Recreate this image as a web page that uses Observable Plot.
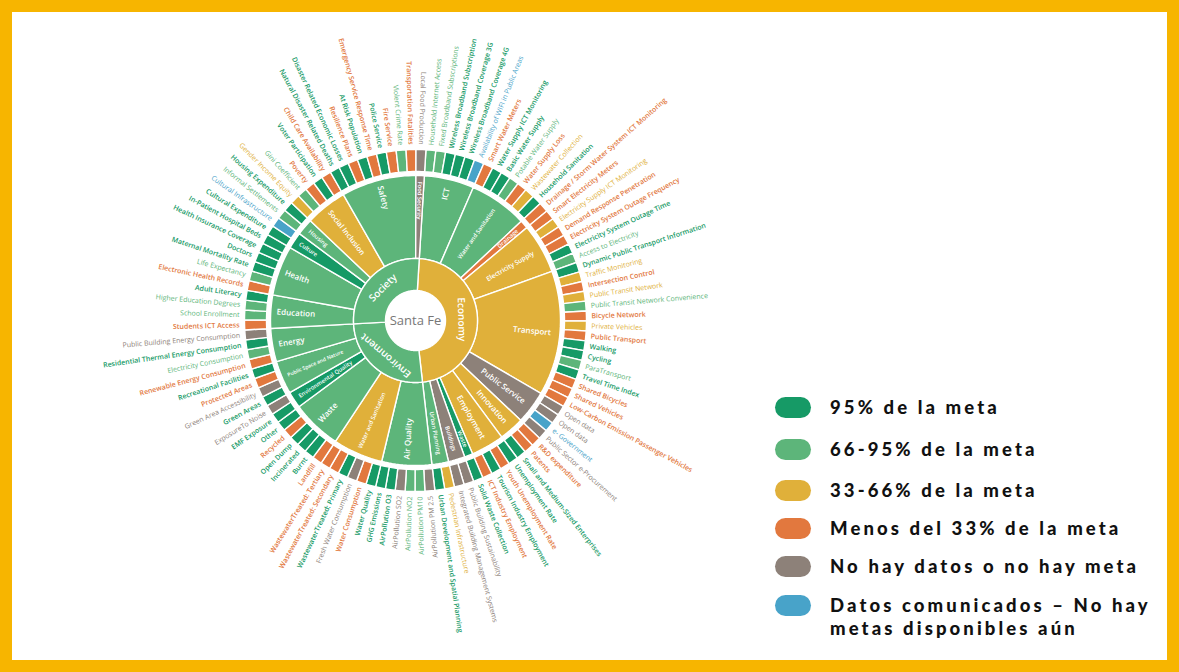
<!DOCTYPE html>
<html><head><meta charset="utf-8">
<script src="https://cdn.jsdelivr.net/npm/d3@7"></script>
<script src="https://cdn.jsdelivr.net/npm/@observablehq/plot@0.6"></script>
<style>
html,body{margin:0;padding:0;}
body{width:1179px;height:672px;background:#f7b500;position:relative;overflow:hidden;}
#panel{position:absolute;left:12px;top:12px;width:1155px;height:648px;background:#fff;}
#chart{position:absolute;left:0;top:0;}
.sw{position:absolute;left:775px;width:36px;height:21px;border-radius:10.5px;}
.lab{position:absolute;left:830px;font-family:Lato,"Open Sans",sans-serif;font-weight:900;font-size:18.5px;letter-spacing:3.1px;line-height:23px;color:#111;white-space:nowrap;}
</style></head>
<body>
<div id="panel"><div id="chart"></div></div>
<div id="legend"></div>
<script>
// ---- data ----
const statusLabels = ["95% de la meta","66-95% de la meta","33-66% de la meta","Menos del 33% de la meta","No hay datos o no hay meta","Datos comunicados – No hay metas disponibles aún"];
const statusCodes = ["D","L","Y","O","G","B"];
const statusColors = ["#169a66","#5db57a","#e0b03a","#e2783e","#8d8179","#48a3c9"];

const dimensionNames = ["Economy","Environment","Society"];
const dimensionStatus = ["Y","L","L"];

const categoryNames = ["ICT","Water and Sanitation","Drainage","Electricity Supply","Transport","Public Service","Innovation","Employment","Waste","Buildings","Urban Planning",
  "Air Quality","Water and Sanitation","Waste","Environmental Quality","Public Space and Nature","Energy",
  "Education","Health","Culture","Housing","Social Inclusion","Safety","Food Security"];
const categoryDimension = [0,0,0,0,0,0,0,0,0,0,0, 1,1,1,1,1,1, 2,2,2,2,2,2,2];
const categoryStatus = ["L","L","O","Y","Y","G","Y","Y","D","G","L", "L","Y","L","D","L","L", "L","L","D","L","Y","L","G"];
const categorySizes = [6,7,1,6,15,4,3,4,1,2,2, 6,6,6,2,4,4, 4,6,2,2,5,9,1];

const indicatorNames = [
"Household Internet Access","Fixed Broadband Subscriptions","Wireless Broadband Subscription","Wireless Broadband Coverage 3G","Wireless Broadband Coverage 4G","Availability of WIFI in Public Areas",
"Smart Water Meters","Water Supply ICT Monitoring","Basic Water Supply","Potable Water Supply","Water Supply Loss","Wastewater Collection","Household Sanitation",
"Drainage / Storm Water System ICT Monitoring",
"Smart Electricity Meters","Electricity Supply ICT Monitoring","Demand Response Penetration","Electricity System Outage Frequency","Electricity System Outage Time","Access to Electricity",
"Dynamic Public Transport Information","Traffic Monitoring","Intersection Control","Public Transit Network","Public Transit Network Convenience","Bicycle Network","Private Vehicles","Public Transport","Walking","Cycling","ParaTransport","Travel Time Index","Shared Bicycles","Shared Vehicles","Low-Carbon Emission Passenger Vehicles",
"Open data","Open data","e- Government","Public Sector e-Procurement",
"R&D expenditure","Patents","Small and Medium-Sized Enterprises",
"Unemployment Rate","Youth Unemployment Rate","Tourism Industry Employment","ICT Industry Employment",
"Solid Waste Collection",
"Public Building Sustainability","Integrated Building Management Systems",
"Pedestrian Infrastructure","Urban Development and Spatial Planning",
"AirPollution PM 2.5","AirPollution PM10","AirPollution NO2","AirPollution SO2","AirPollution O3","GHG Emissions",
"Water Quality","Water Consumption","Fresh Water Consumption","WastewaterTreated: Primary","WastewaterTreated: Secondary","WastewaterTreated: Tertiary",
"Landfill","Burnt","Incinerated","Open Dump","Recycled","Other",
"EMF Exposure","ExposureTo Noise",
"Green Areas","Green Area Accessibility","Protected Areas","Recreational Facilities",
"Renewable Energy Consumption","Electricity Consumption","Residential Thermal Energy Consumption","Public Building Energy Consumption",
"Students ICT Access","School Enrollment","Higher Education Degrees","Adult Literacy",
"Electronic Health Records","Life Expectancy","Maternal Mortality Rate","Doctors","Health Insurance Coverage","In-Patient Hospital Beds",
"Cultural Expenditure","Cultural Infrastructure",
"Informal Settlements","Housing Expenditure",
"Gender Income Equity","Gini Coefficient","Poverty","Voter Participation","Child Care Availability",
"Natural Disaster Related Deaths","Disaster Related Economic Losses","Resilience Plans","At Risk Population","Emergency Service Response Time","Police Service","Fire Service","Violent Crime Rate","Transportation Fatalities",
"Local Food Production"];
const indicatorStatus = [
"L","L","D","D","D","B",
"O","D","D","L","O","Y","D",
"O",
"O","Y","O","O","D","L",
"D","Y","O","Y","L","O","Y","O","D","D","L","D","O","O","O",
"G","G","B","G",
"O","O","D",
"D","O","D","O",
"D",
"G","G",
"Y","D",
"G","L","L","G","D","D",
"D","O","G","D","O","O",
"O","D","D","D","O","D",
"D","G",
"D","G","O","D",
"O","L","D","G",
"O","L","L","D",
"O","L","D","D","D","D",
"D","B",
"L","D",
"Y","L","O","D","O",
"D","D","O","D","O","D","O","L","O",
"G"];

// ---- layout helpers ----
const lab = c => statusLabels[statusCodes.indexOf(c)];
const N = indicatorNames.length, step = 360 / N, offset = 3.5;
const RAD = Math.PI / 180;
const pos = (r, a) => ({x: r * Math.sin(a * RAD), y: r * Math.cos(a * RAD)});
function arc(id, a0, a1, r0, r1, status) {
  const n = Math.max(2, Math.ceil((a1 - a0) / 1.5)), pts = [];
  for (let k = 0; k <= n; k++) pts.push({id, status, ...pos(r1, a0 + (a1 - a0) * k / n)});
  for (let k = n; k >= 0; k--) pts.push({id, status, ...pos(r0, a0 + (a1 - a0) * k / n)});
  return pts;
}
const R1 = [30, 62], R2 = [62, 145], R3 = [149, 171];

const indCat = [];
categorySizes.forEach((s, c) => { for (let k = 0; k < s; k++) indCat.push(c); });

const polys = [], ring3Labels = [], ring2Labels = [], ring1Labels = [];
indicatorNames.forEach((name, i) => {
  const a0 = offset + i * step, a1 = a0 + step, am = (a0 + a1) / 2;
  const st = lab(indicatorStatus[i]);
  polys.push(...arc("i" + i, a0, a1, R3[0], R3[1], st));
  const flip = categoryDimension[indCat[i]] !== 0;
  const bold = indicatorStatus[i] === "D" || indicatorStatus[i] === "O";
  ring3Labels.push({name, status: st, flip, bold, ...pos(176, am), rotate: flip ? am + 90 : am - 90});
});
let start = 0;
categoryNames.forEach((name, c) => {
  const a0 = offset + start * step, a1 = a0 + categorySizes[c] * step, am = (a0 + a1) / 2;
  polys.push(...arc("c" + c, a0, a1, R2[0], R2[1], lab(categoryStatus[c])));
  const flip = categoryDimension[c] !== 0;
  const size = categorySizes[c] <= 2 ? 5.8 : Math.min(8, 66 / (name.length * 0.56));
  ring2Labels.push({name, flip, size, ...pos(flip ? 139 : 136, am), rotate: flip ? am + 90 : am - 90});
  start += categorySizes[c];
});
start = 0;
dimensionNames.forEach((name, d) => {
  const n = d3.sum(categorySizes.filter((s, c) => categoryDimension[c] === d));
  const a0 = offset + start * step, a1 = a0 + n * step, am = (a0 + a1) / 2;
  polys.push(...arc("d" + d, a0, a1, R1[0], R1[1], lab(dimensionStatus[d])));
  ring1Labels.push({name, ...pos(46, am), rotate: am});
  start += n;
});

const W = 748, H = 648, cx = 403, cy = 308;
const textCommon = {x: "x", y: "y", text: "name", rotate: "rotate", fontFamily: "Open Sans"};
const ring2Marks = [];
d3.groups(ring2Labels, d => d.flip, d => d.size).forEach(([flip, bySize]) => bySize.forEach(([size, rows]) => {
  ring2Marks.push(Plot.text(rows, {...textCommon, fill: "white", textAnchor: flip ? "start" : "end", fontSize: size, fontWeight: 600}));
}));
const chart = Plot.plot({
  width: W, height: H, margin: 0,
  x: {domain: [-cx, W - cx], axis: null},
  y: {domain: [-(H - cy), cy], axis: null},
  color: {domain: statusLabels, range: statusColors},
  style: {background: "transparent", overflow: "visible"},
  marks: [
    Plot.line(polys, {x: "x", y: "y", z: "id", fill: "status", stroke: "white", strokeWidth: 1.4, curve: "linear-closed"}),
    Plot.text(ring3Labels.filter(d => !d.flip && d.bold), {...textCommon, fill: "status", textAnchor: "start", fontSize: 7, fontWeight: 600}),
    Plot.text(ring3Labels.filter(d => !d.flip && !d.bold), {...textCommon, fill: "status", textAnchor: "start", fontSize: 7, fontWeight: 400}),
    Plot.text(ring3Labels.filter(d => d.flip && d.bold), {...textCommon, fill: "status", textAnchor: "end", fontSize: 7, fontWeight: 600}),
    Plot.text(ring3Labels.filter(d => d.flip && !d.bold), {...textCommon, fill: "status", textAnchor: "end", fontSize: 7, fontWeight: 400}),
    ...ring2Marks,
    Plot.text(ring1Labels, {...textCommon, fill: "white", textAnchor: "middle", fontSize: 10, fontWeight: 600}),
    Plot.text(["Santa Fe"], {x: () => 0, y: () => 0, text: d => d, fill: "#777", fontSize: 13, fontFamily: "Open Sans", fontWeight: 400})
  ]
});
document.getElementById("chart").appendChild(chart);

// ---- legend ----
const legendY = [407, 449, 490, 528, 566, 605];
const legend = document.getElementById("legend");
statusLabels.forEach((t, i) => {
  const sw = document.createElement("div");
  sw.className = "sw"; sw.style.top = (legendY[i] - 10.5) + "px"; sw.style.background = statusColors[i];
  legend.appendChild(sw);
  const tx = document.createElement("div");
  tx.className = "lab"; tx.style.top = (legendY[i] - 11.5) + "px";
  if (i === 5) { tx.innerHTML = "Datos comunicados – No hay<br>metas disponibles aún"; }
  else tx.textContent = t;
  legend.appendChild(tx);
});
</script>
</body></html>
